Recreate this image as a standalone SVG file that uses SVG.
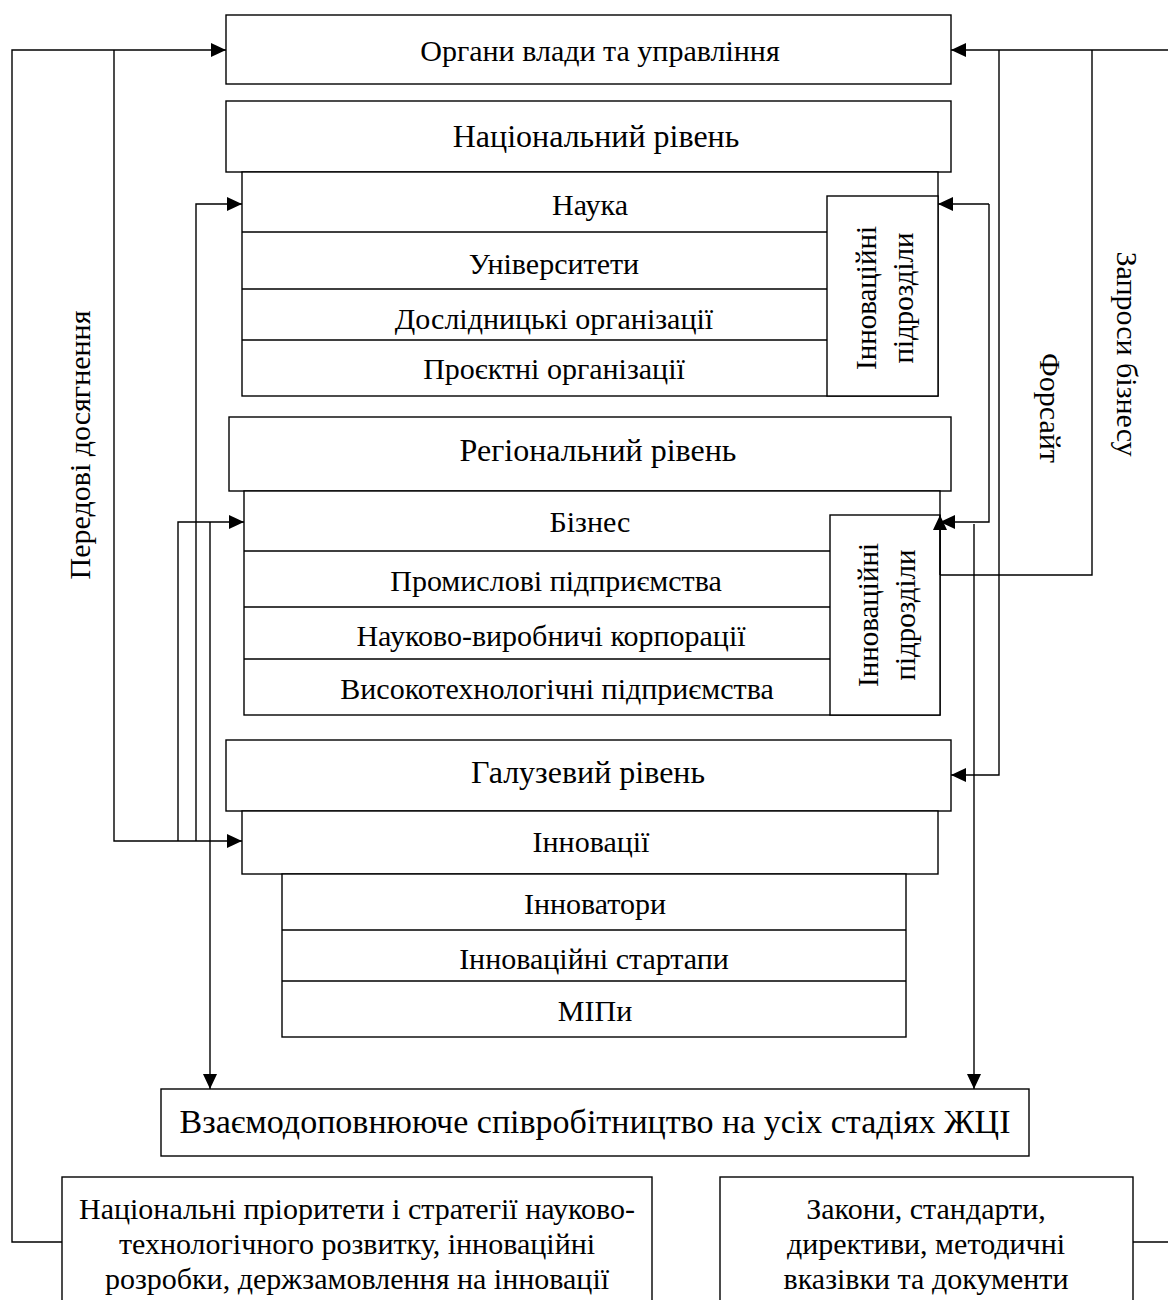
<svg xmlns="http://www.w3.org/2000/svg" width="1168" height="1300" viewBox="0 0 1168 1300">
<style>
.b{fill:#fff;stroke:#000;stroke-width:1.4}
.l{fill:none;stroke:#000;stroke-width:1.4}
.t{font-family:"Liberation Serif","Times New Roman",serif;font-size:30px;fill:#000;text-anchor:middle;dominant-baseline:central}
.s{font-size:29px}
.h{font-size:32px}
.c{font-size:34px}
.m{font-family:"Liberation Serif","Times New Roman",serif;font-size:30px;fill:#000;text-anchor:middle}
</style>
<defs>
<marker id="a" markerUnits="userSpaceOnUse" markerWidth="16" markerHeight="16" refX="15" refY="7" orient="auto"><path d="M0,0 L15,7 L0,14 z" fill="#000"/></marker>
</defs>
<rect width="1168" height="1300" fill="#fff"/>
<g id="organs"><rect class="b" x="226" y="15" width="725" height="69"/><text class="t" x="600" y="50">Органи влади та управління</text></g>
<g id="national"><rect class="b" x="226" y="101" width="725" height="71"/><text class="t h" x="596" y="136">Національний рівень</text></g>
<g id="science">
<rect class="b" x="242" y="172" width="696" height="224"/>
<path class="l" d="M242,232H827M242,289H827M242,340H827"/>
<text class="t" x="590" y="204">Наука</text>
<text class="t" x="554" y="263">Університети</text>
<text class="t" x="554" y="318">Дослідницькі організації</text>
<text class="t" x="554" y="368">Проєктні організації</text>
</g>
<g id="science-innov"><rect class="b" x="827" y="196" width="111" height="200"/>
<text class="t s" transform="translate(866,298) rotate(-90)">Інноваційні</text>
<text class="t s" transform="translate(903,298) rotate(-90)">підрозділи</text></g>
<g id="regional"><rect class="b" x="229" y="417" width="722" height="74"/><text class="t h" x="598" y="450">Регіональний рівень</text></g>
<g id="business">
<rect class="b" x="244" y="491" width="696" height="224"/>
<path class="l" d="M244,551H830M244,607H830M244,659H830"/>
<text class="t" x="590" y="521">Бізнес</text>
<text class="t" x="556" y="580">Промислові підприємства</text>
<text class="t" x="551" y="635">Науково-виробничі корпорації</text>
<text class="t" x="557" y="688">Високотехнологічні підприємства</text>
</g>
<g id="business-innov"><rect class="b" x="830" y="515" width="110" height="200"/>
<text class="t s" transform="translate(868,615) rotate(-90)">Інноваційні</text>
<text class="t s" transform="translate(905,615) rotate(-90)">підрозділи</text></g>
<g id="branch"><rect class="b" x="226" y="740" width="725" height="71"/><text class="t h" x="588" y="772">Галузевий рівень</text></g>
<g id="innovations"><rect class="b" x="242" y="811" width="696" height="63"/><text class="t" x="591" y="841">Інновації</text></g>
<g id="innovators">
<rect class="b" x="282" y="874" width="624" height="163"/>
<path class="l" d="M282,930H906M282,981H906"/>
<text class="t" x="595" y="903">Інноватори</text>
<text class="t" x="594" y="958">Інноваційні стартапи</text>
<text class="t" x="595" y="1010">МІПи</text>
</g>
<g id="cooperation"><rect class="b" x="161" y="1089" width="868" height="67"/><text class="t c" x="595" y="1121">Взаємодоповнююче співробітництво на усіх стадіях ЖЦІ</text></g>
<g id="priorities"><rect class="b" x="62" y="1177" width="590" height="140"/>
<text class="m" x="357" y="1219">Національні пріоритети і стратегії науково-</text>
<text class="m" x="357" y="1254">технологічного розвитку, інноваційні</text>
<text class="m" x="357" y="1289">розробки, держзамовлення на інновації</text></g>
<g id="laws"><rect class="b" x="720" y="1177" width="413" height="140"/>
<text class="m" x="926" y="1219" font-size="31">Закони, стандарти,</text>
<text class="m" x="926" y="1254" font-size="31">директиви, методичні</text>
<text class="m" x="926" y="1289" font-size="31">вказівки та документи</text></g>
<g id="connectors">
<path class="l" d="M62,1242H12V50H226" marker-end="url(#a)"/>
<path class="l" d="M114,50V841H242" marker-end="url(#a)"/>
<path class="l" d="M178,841V522H244" marker-end="url(#a)"/>
<path class="l" d="M196,841V204H242" marker-end="url(#a)"/>
<path class="l" d="M210,522V1089" marker-end="url(#a)"/>
<path class="l" d="M1168,50H951" marker-end="url(#a)"/>
<path class="l" d="M999,50V775H951" marker-end="url(#a)"/>
<path class="l" d="M1092,50V575H940"/>
<path class="l" d="M940,575V515" marker-end="url(#a)"/>
<path class="l" d="M989,204H938" marker-end="url(#a)"/>
<path class="l" d="M989,204V522H940" marker-end="url(#a)"/>
<path class="l" d="M974,524V1089" marker-end="url(#a)"/>
<path class="l" d="M1133,1242H1168"/>
</g>
<g id="labels">
<text class="t" transform="translate(79,445) rotate(-90)">Передові досягнення</text>
<text class="t" transform="translate(1050,408) rotate(90)">Форсайт</text>
<text class="t" transform="translate(1127,354) rotate(90)">Запроси бізнесу</text>
</g>
</svg>
